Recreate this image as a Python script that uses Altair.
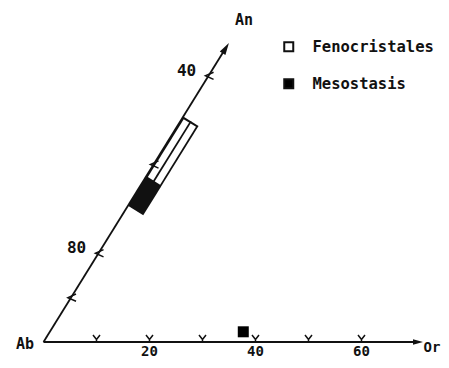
import math
import altair as alt
import pandas as pd

# ---------------- data ----------------
or_ticks = [10, 20, 30, 40, 50, 60]
or_tick_labels = [20, 40, 60]
an_ticks = [10, 20, 40, 60]
an_label_pos = [20, 60]
an_label_text = ["80", "40"]
or_end = 71.6
an_end = 67.4
feno_an = [37.0, 50.8]
meso_an = [30.7, 37.0]
band_offset = 1.7
meso_point_or = [36.5]
meso_point_an = [2.3]
legend_names = ["Fenocristales", "Mesostasis"]
legend_fills = ["white", "black"]
vertex_names = ["Ab", "An", "Or"]

# ---------------- geometry helpers ----------------
TH = math.radians(58.2)
R = 0.985
INK = "#111111"
FONT = "DejaVu Sans Mono"


def tern(or_, an, off=0.0):
    x = or_ + an * R * math.cos(TH) + off * math.sin(TH)
    y = an * R * math.sin(TH) - off * math.cos(TH)
    return x, y


W, H = 433, 352
X = alt.X("x:Q", scale=alt.Scale(domain=[-6.698, 75.0], nice=False, zero=False), axis=None)
Y = alt.Y("y:Q", scale=alt.Scale(domain=[-3.396, 63.02], nice=False, zero=False), axis=None)


def seg_df(rows):
    out = []
    for (a, b) in rows:
        out.append({"x": a[0], "y": a[1], "x2": b[0], "y2": b[1]})
    return pd.DataFrame(out)


# axes lines
axes_df = seg_df([
    (tern(0, 0), tern(or_end - 0.94, 0)),
    (tern(0, 0), tern(0, an_end - 1.15)),
])
axes = alt.Chart(axes_df).mark_rule(color=INK, strokeWidth=1.8).encode(
    x=X, y=Y, x2="x2:Q", y2="y2:Q")

# arrowheads
ax1 = tern(or_end - 0.94, 0)
ax2 = tern(0, an_end - 1.15)
arrows_df = pd.DataFrame([
    {"x": ax1[0], "y": ax1[1], "ang": 90, "sz": 100},
    {"x": ax2[0], "y": ax2[1], "ang": 90 - 58.2, "sz": 144},
])
arrows = alt.Chart(arrows_df).mark_point(
    shape="M0,-1L0.55,1L-0.55,1Z", filled=True, color=INK, opacity=1
).encode(x=X, y=Y, angle=alt.Angle("ang:Q", scale=None), size=alt.Size("sz:Q", scale=None))

# ticks on Or axis
ot = pd.DataFrame([dict(zip(["x", "y"], tern(t, 0))) for t in or_ticks])
or_tk = alt.Chart(ot).mark_point(
    shape="M-1,-1L0,0.3L1,-1M0,0.3L0,1", filled=False, color=INK, strokeWidth=1.5,
    size=49, yOffset=-3.5, opacity=1
).encode(x=X, y=Y)

# ticks on An axis
at = pd.DataFrame([dict(zip(["x", "y"], tern(0, t))) for t in an_ticks])
an_tk = alt.Chart(at).mark_point(
    shape="M1,-0.8L-0.8,0L1,0.8", filled=False, color=INK, strokeWidth=1.5,
    size=81, xOffset=0.5, opacity=1
).encode(x=X, y=Y)

# tick labels
ol = pd.DataFrame([{**dict(zip(["x", "y"], tern(t, 0))), "t": str(t)} for t in or_tick_labels])
or_lab = alt.Chart(ol).mark_text(
    font=FONT, fontSize=14, fontWeight="bold", color=INK, dy=10, baseline="middle", align="center"
).encode(x=X, y=Y, text="t:N")

al = pd.DataFrame([{**dict(zip(["x", "y"], tern(0, p))), "t": s} for p, s in zip(an_label_pos, an_label_text)])
an_lab = alt.Chart(al).mark_text(
    font=FONT, fontSize=16, fontWeight="bold", color=INK, dx=-22, dy=-5, baseline="middle", align="center"
).encode(x=X, y=Y, text="t:N")

# vertex labels
vpos = [tern(0, 0), tern(0, an_end), tern(or_end, 0)]
voff = [(-18.5, 2, "center", 15), (15, -23, "center", 15), (17.5, 6, "right", 14)]
vlayers = []
for name, p, (dx, dy, al_, fs) in zip(vertex_names, vpos, voff):
    d = pd.DataFrame([{"x": p[0], "y": p[1], "t": name}])
    vlayers.append(alt.Chart(d).mark_text(
        font=FONT, fontSize=fs, fontWeight="bold", color=INK, dx=dx, dy=dy,
        baseline="middle", align=al_
    ).encode(x=X, y=Y, text="t:N"))

# bands (composition ranges)
eps = 0.38
feno_outer = alt.Chart(seg_df([(tern(0, feno_an[0], band_offset), tern(0, feno_an[1], band_offset))])).mark_rule(
    color=INK, strokeWidth=18, strokeCap="butt").encode(x=X, y=Y, x2="x2:Q", y2="y2:Q")
feno_inner = alt.Chart(seg_df([(tern(0, feno_an[0] + eps, band_offset), tern(0, feno_an[1] - eps, band_offset))])).mark_rule(
    color="white", strokeWidth=14.4, strokeCap="butt").encode(x=X, y=Y, x2="x2:Q", y2="y2:Q")
feno_mid = alt.Chart(seg_df([(tern(0, feno_an[0], band_offset), tern(0, feno_an[1], band_offset))])).mark_rule(
    color=INK, strokeWidth=1.8, strokeCap="butt").encode(x=X, y=Y, x2="x2:Q", y2="y2:Q")
meso_band = alt.Chart(seg_df([(tern(0, meso_an[0], band_offset), tern(0, meso_an[1] + 0.2, band_offset))])).mark_rule(
    color=INK, strokeWidth=18, strokeCap="butt").encode(x=X, y=Y, x2="x2:Q", y2="y2:Q")

# mesostasis point + legend
mp = pd.DataFrame([{**dict(zip(["x", "y"], tern(o, a))), "name": "Mesostasis"}
                   for o, a in zip(meso_point_or, meso_point_an)])
meso_pt = alt.Chart(mp).mark_point(shape="square", filled=True, size=121, opacity=1, strokeWidth=0).encode(
    x=X, y=Y,
    fill=alt.Fill("name:N", scale=alt.Scale(domain=legend_names, range=legend_fills),
                  legend=alt.Legend(
                      orient="none", legendX=273, legendY=31, title=None,
                      symbolType="square", symbolSize=81, symbolStrokeColor=INK,
                      symbolStrokeWidth=2, symbolOpacity=1,
                      labelFont=FONT, labelFontSize=15.5, labelFontWeight="bold",
                      labelColor=INK, labelOffset=16, rowPadding=19, padding=0,
                      labelLimit=300)),
)

chart = alt.layer(
    feno_outer, feno_inner, feno_mid, meso_band,
    axes, arrows, or_tk, an_tk, or_lab, an_lab, *vlayers, meso_pt
).properties(
    width=W, height=H, padding=0, autosize=alt.AutoSizeParams(type="none"), background="white"
).configure_view(stroke=None)

chart.save("out.html", embed_options={"renderer": "svg", "actions": False})
